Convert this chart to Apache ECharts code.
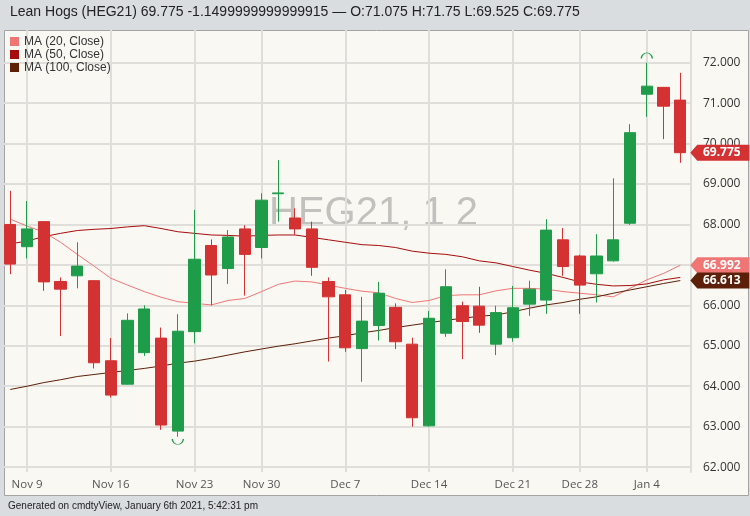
<!DOCTYPE html>
<html><head><meta charset="utf-8">
<script src="https://cdn.jsdelivr.net/npm/echarts@6/dist/echarts.min.js"></script>
<style>html,body{margin:0;padding:0;background:#d9dde0}#c{width:750px;height:516px}</style>
</head><body><div id="c"></div>
<script>
const dates = ['Nov 6','Nov 9','Nov 10','Nov 11','Nov 12','Nov 13','Nov 16','Nov 17','Nov 18','Nov 19','Nov 20','Nov 23','Nov 24','Nov 25','Nov 27','Nov 30','Dec 1','Dec 2','Dec 3','Dec 4','Dec 7','Dec 8','Dec 9','Dec 10','Dec 11','Dec 14','Dec 15','Dec 16','Dec 17','Dec 18','Dec 21','Dec 22','Dec 23','Dec 24','Dec 28','Dec 29','Dec 30','Dec 31','Jan 4','Jan 5','Jan 6'];
const opens  = [68.00,67.45,68.07,66.59,66.73,66.61,64.63,64.05,64.83,65.19,62.89,65.35,67.48,66.91,67.89,67.43,68.76,68.16,67.89,66.59,66.26,64.93,65.50,65.95,65.04,63.02,65.31,65.99,65.98,65.04,65.20,66.03,66.13,67.62,67.22,66.78,67.10,68.03,71.22,71.39,71.075];
const highs  = [68.83,68.58,68.08,66.69,67.56,66.62,65.19,65.80,66.00,65.45,65.78,68.36,67.63,67.86,67.98,68.77,69.59,68.40,68.07,66.69,66.38,66.21,66.58,66.05,65.20,65.86,66.89,66.09,66.46,65.99,66.48,66.61,68.13,67.91,67.25,67.76,69.14,70.48,72.00,71.40,71.75];
const lows   = [66.77,67.16,66.36,65.24,66.42,64.44,63.72,64.04,64.75,62.92,62.75,65.06,66.00,66.53,66.24,67.16,68.07,67.74,66.73,64.61,64.85,64.11,65.13,64.92,63.00,63.00,65.22,64.67,65.32,64.77,65.10,65.74,65.79,66.73,65.79,66.07,67.08,67.99,70.66,70.11,69.525];
const closes = [67.02,67.89,66.58,66.40,66.97,64.58,63.78,65.63,65.91,63.04,65.36,67.14,66.75,67.69,67.26,68.60,68.78,67.89,66.94,66.21,64.95,65.61,66.30,65.10,63.22,65.68,66.46,65.60,65.51,65.82,65.94,66.40,67.86,66.96,66.50,67.22,67.62,70.27,71.42,70.925,69.775];
const ma20  = [68.13,67.96,67.81,67.56,67.26,66.97,66.67,66.50,66.34,66.20,66.09,66.05,66.01,66.12,66.17,66.34,66.52,66.60,66.58,66.50,66.42,66.35,66.31,66.17,66.07,66.12,66.24,66.26,66.26,66.36,66.42,66.42,66.40,66.34,66.30,66.26,66.21,66.42,66.63,66.79,66.992];
const ma50  = [67.52,67.59,67.70,67.78,67.85,67.88,67.90,67.94,67.97,67.90,67.82,67.78,67.74,67.73,67.71,67.73,67.74,67.74,67.68,67.62,67.56,67.50,67.48,67.43,67.34,67.29,67.26,67.20,67.10,67.05,66.96,66.87,66.79,66.69,66.58,66.52,66.48,66.49,66.53,66.63,66.69];
const ma100 = [63.92,64.00,64.09,64.16,64.24,64.29,64.34,64.39,64.44,64.50,64.57,64.62,64.69,64.77,64.85,64.92,64.99,65.05,65.12,65.19,65.25,65.32,65.38,65.45,65.51,65.57,65.63,65.68,65.73,65.76,65.84,65.93,66.01,66.07,66.15,66.21,66.30,66.38,66.46,66.54,66.613];
const xTickLabels = ['Nov 9','Nov 16','Nov 23','Nov 30','Dec 7','Dec 14','Dec 21','Dec 28','Jan 4'];
const yMin = 62, yMax = 72, yStep = 1;
const seriesNames = ['MA (20, Close)','MA (50, Close)','MA (100, Close)'];
const titleText = 'Lean Hogs (HEG21) 69.775 -1.1499999999999915 \u2014 O:71.075 H:71.75 L:69.525 C:69.775';
const footerText = 'Generated on cmdtyView, January 6th 2021, 5:42:31 pm';
const watermarkText = 'HEG21, 1 2';

const UP = '#1f9c4a', DOWN = '#d43232';
const C20 = '#f07676', C50 = '#a50d0d', C100 = '#5c2008';
const GRIDC = '#dfdedb';
const last = dates.length - 1;
const candleData = dates.map((d, i) => [opens[i], closes[i], lows[i], highs[i]]);
const tagPath = 'path://M0,8 L7,0 L59,0 L59,16 L7,16 Z';
function tag(val, color, z) {
  return {
    symbol: tagPath, symbolSize: [59, 16], symbolOffset: [39.5, 0],
    z: z, silent: true,
    data: [{ coord: [last, val], value: val, itemStyle: { color: color } }],
    label: { show: true, position: 'inside', offset: [2, 0], color: '#fff', fontWeight: 'bold', fontSize: 12,
             fontFamily: 'Open Sans', formatter: p => Number(p.value).toFixed(3) }
  };
}
const showTick = (idx, val) => xTickLabels.indexOf(val) >= 0;

const chart = echarts.init(document.getElementById('c'), null, { renderer: 'canvas' });
chart.setOption({
  backgroundColor: '#d9dde0',
  animation: false,
  title: [
    { text: titleText, left: 10, top: 5, padding: 0,
      textStyle: { fontFamily: 'Liberation Sans', fontSize: 14, fontWeight: 'normal', color: '#222' } },
    { text: footerText, left: 8, top: 501, padding: 0,
      textStyle: { fontFamily: 'Liberation Sans', fontSize: 10, fontWeight: 'normal', color: '#222' } }
  ],
  graphic: [
    { type: 'rect', z: -10, silent: true, shape: { x: 4.5, y: 30.5, width: 744, height: 465 },
      style: { fill: '#faf8f3', stroke: '#a3a3a3', lineWidth: 1 } },
    { type: 'text', z: -5, silent: true, x: 269, y: 214,
      style: { text: watermarkText, font: '40px "Liberation Sans"', fill: '#c2c1be', textVerticalAlign: 'middle', verticalAlign: 'middle' } }
  ],
  legend: {
    data: seriesNames, orient: 'vertical', left: 10, top: 35.5, padding: 0,
    icon: 'rect', itemWidth: 9, itemHeight: 9, itemGap: 1,
    textStyle: { fontFamily: 'Liberation Sans', fontSize: 12, color: '#333' }, selectedMode: false
  },
  grid: [
    { left: 10.3, right: 69.7, top: 62.7, bottom: 48.9 },
    { left: 4, right: 59, top: 62.7, bottom: 48.9 },
    { left: 10.3, right: 69.7, top: 30, bottom: 44 }
  ],
  xAxis: [
    { gridIndex: 0, type: 'category', data: dates, boundaryGap: false, show: false },
    { gridIndex: 1, type: 'value', show: false, min: 0, max: 1 },
    { gridIndex: 2, type: 'category', data: dates, boundaryGap: false,
      axisLine: { show: false }, axisTick: { show: false },
      axisLabel: { interval: showTick, margin: 7, color: '#555', fontFamily: 'Open Sans', fontSize: 11.5 },
      splitLine: { show: true, interval: showTick, lineStyle: { color: GRIDC, width: 2 } } }
  ],
  yAxis: [
    { gridIndex: 0, type: 'value', min: yMin, max: yMax, show: false },
    { gridIndex: 1, type: 'value', min: yMin, max: yMax, interval: yStep, position: 'right',
      axisLine: { show: false }, axisTick: { show: false },
      axisLabel: { margin: 12, color: '#333', fontFamily: 'Open Sans', fontSize: 12, formatter: v => v.toFixed(3) },
      splitLine: { show: true, lineStyle: { color: GRIDC, width: 2 } } },
    { gridIndex: 2, type: 'value', min: 0, max: 1, position: 'right', offset: 10.7,
      axisLine: { show: true, lineStyle: { color: GRIDC, width: 2 } }, axisTick: { show: false },
      axisLabel: { show: false }, splitLine: { show: false } }
  ],
  series: [
    { type: 'candlestick', name: 'HEG21', xAxisIndex: 0, yAxisIndex: 0, data: candleData, barWidth: '70%', clip: false, z: 3,
      itemStyle: { color: UP, color0: DOWN, borderColor: UP, borderColor0: DOWN, borderWidth: 1 },
      markPoint: {
        silent: true, z: 6,
        data: [
          { type: 'max', valueDim: 'highest', symbol: 'path://M0,6 A6,6 0 0 1 12,6', symbolSize: [11, 5.5], symbolOffset: [0, -7],
            itemStyle: { color: 'none', borderColor: UP, borderWidth: 1 }, label: { show: false } },
          { type: 'min', valueDim: 'lowest', symbol: 'path://M0,0 A6,6 0 0 0 12,0', symbolSize: [11, 5.5], symbolOffset: [0, 5],
            itemStyle: { color: 'none', borderColor: UP, borderWidth: 1 }, label: { show: false } },
          { coord: [last, closes[last]], value: closes[last], symbol: tagPath, symbolSize: [59, 16], symbolOffset: [39.5, 0],
            itemStyle: { color: DOWN },
            label: { show: true, position: 'inside', offset: [2, 0], color: '#fff', fontWeight: 'bold', fontSize: 12,
                     fontFamily: 'Open Sans', formatter: p => Number(p.value).toFixed(3) } }
        ]
      } },
    { type: 'line', name: seriesNames[0], xAxisIndex: 0, yAxisIndex: 0, data: ma20, showSymbol: false, z: 2,
      color: C20, lineStyle: { width: 1, color: C20 }, markPoint: tag(ma20[last], C20, 7) },
    { type: 'line', name: seriesNames[1], xAxisIndex: 0, yAxisIndex: 0, data: ma50, showSymbol: false, z: 2,
      color: C50, lineStyle: { width: 1, color: C50 } },
    { type: 'line', name: seriesNames[2], xAxisIndex: 0, yAxisIndex: 0, data: ma100, showSymbol: false, z: 2,
      color: C100, lineStyle: { width: 1, color: C100 }, markPoint: tag(ma100[last], C100, 8) }
  ]
});
</script></body></html>
